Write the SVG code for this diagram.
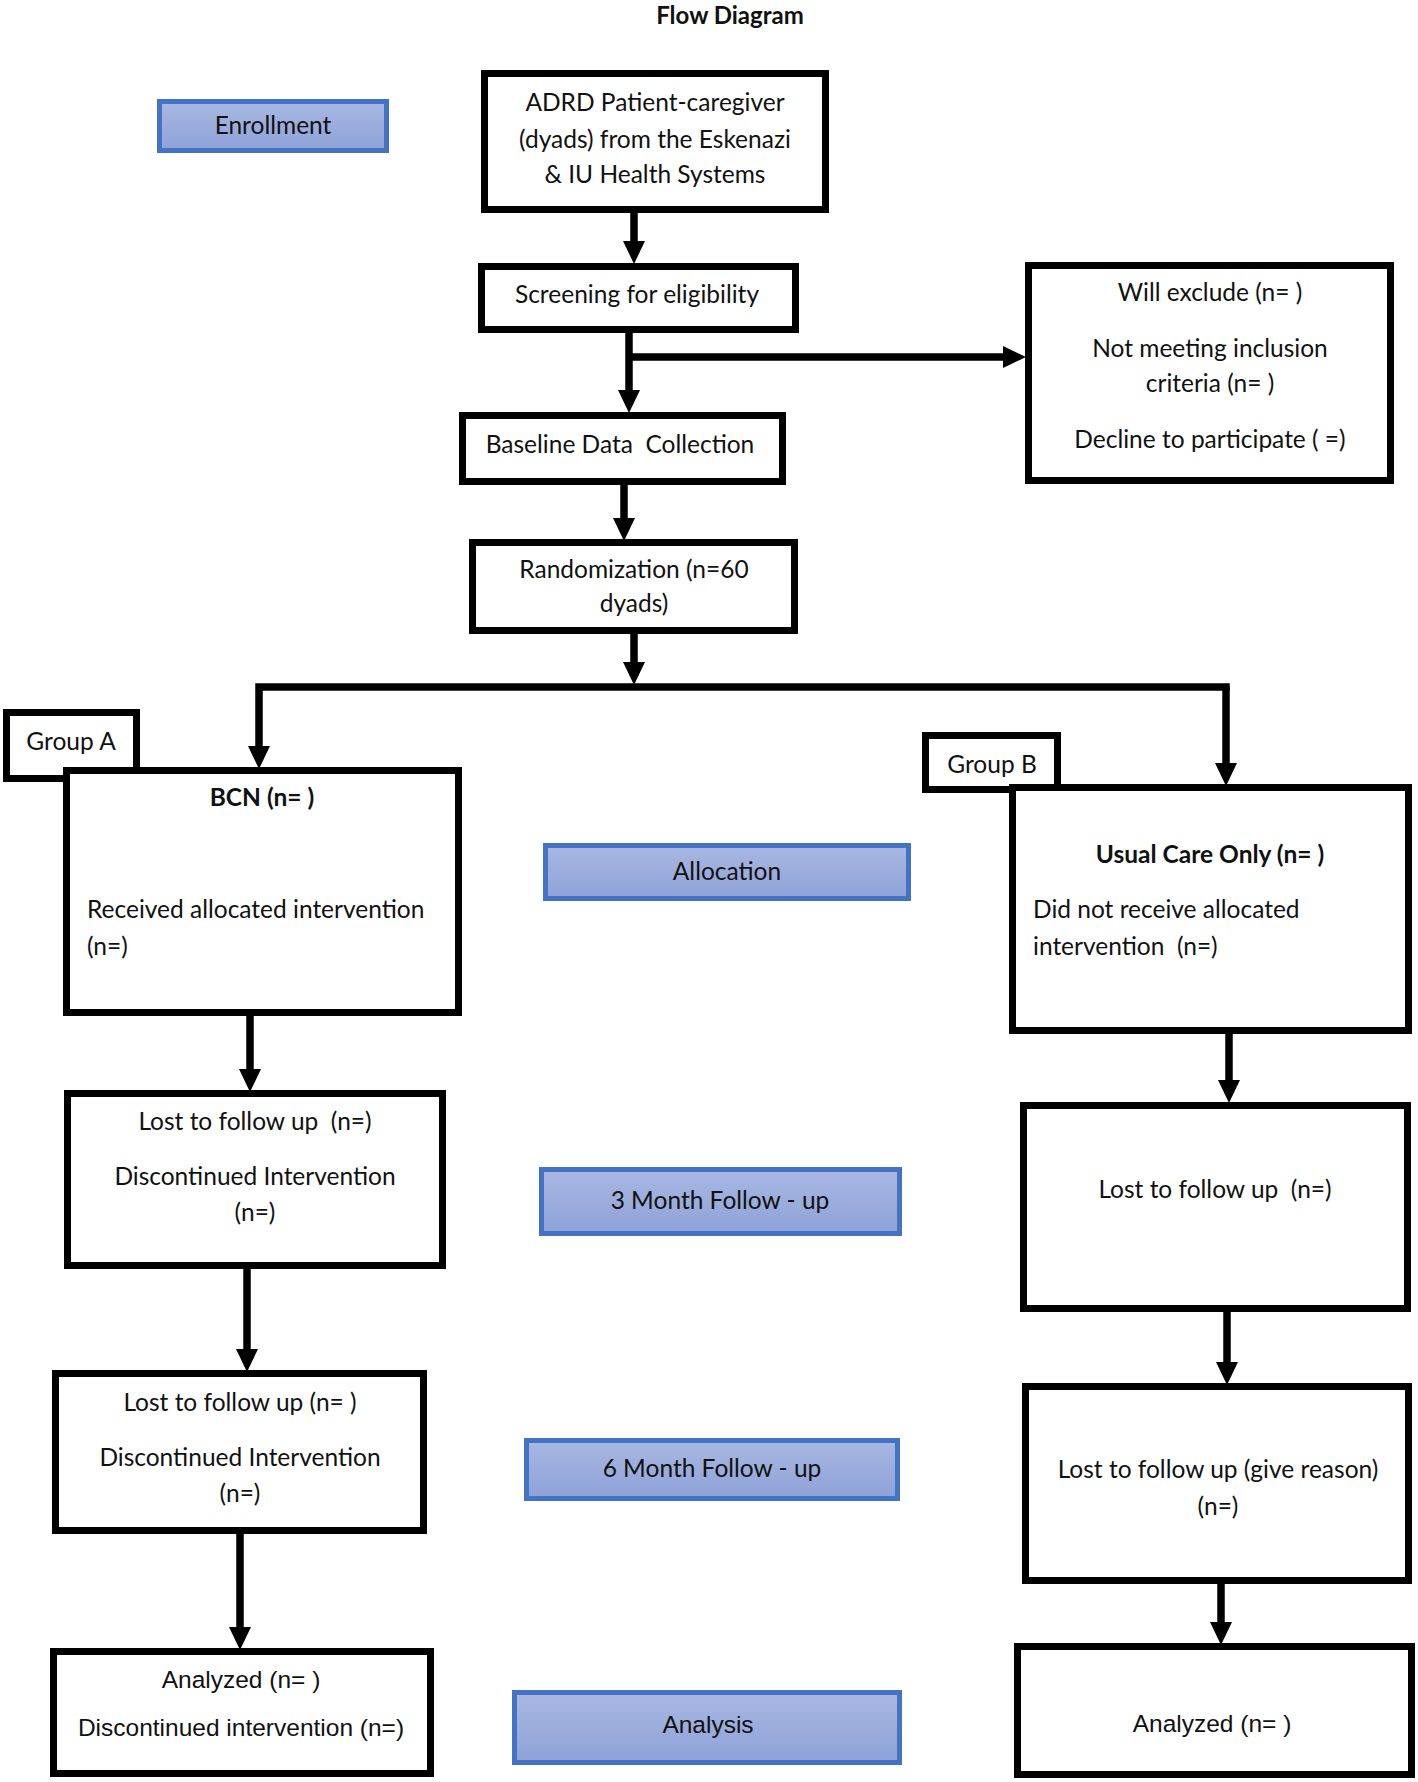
<svg xmlns="http://www.w3.org/2000/svg" width="1418" height="1782" viewBox="0 0 1418 1782">
<style>
.box{fill:#fff;stroke:#000;stroke-width:7}
.blue{fill:url(#bg);stroke:#4472C4;stroke-width:5}
.t{font-family:Lato,"Liberation Sans",sans-serif;font-size:24.5px;fill:#111}
.c{text-anchor:middle}
.b{font-weight:bold}
.a{font-family:"Liberation Sans",Arial,sans-serif;font-size:24.5px;fill:#111}
.conn{fill:none;stroke:#000;stroke-width:7.5}
</style>
<defs>
<linearGradient id="bg" x1="0" y1="0" x2="0" y2="1">
<stop offset="0" stop-color="#a9b8e2"/>
<stop offset="1" stop-color="#8ea2d8"/>
</linearGradient>
<marker id="ah" markerUnits="userSpaceOnUse" markerWidth="24" markerHeight="24" viewBox="0 0 24 24" refX="10" refY="12" orient="auto">
<path d="M0,1 L23,12 L0,23 z" fill="#000"/>
</marker>
</defs>
<rect width="1418" height="1782" fill="#fff"/>

<text class="t c b" x="730" y="24" style="font-size:24px">Flow Diagram</text>

<g id="enrollment"><rect class="blue" x="159.5" y="101.5" width="227" height="49"/><text class="t c" x="273" y="134">Enrollment</text></g>
<g id="allocation"><rect class="blue" x="545.5" y="845.5" width="363" height="53"/><text class="t c" x="727" y="880">Allocation</text></g>
<g id="month3"><rect class="blue" x="541.5" y="1169.5" width="358" height="64"/><text class="t c" x="720" y="1209">3 Month Follow - up</text></g>
<g id="month6"><rect class="blue" x="526.5" y="1440.5" width="371" height="58"/><text class="t c" x="712" y="1477">6 Month Follow - up</text></g>
<g id="analysis"><rect class="blue" x="514.5" y="1692.5" width="385" height="70"/><text class="a c" x="708" y="1733">Analysis</text></g>

<g id="adrd"><rect class="box" x="484.5" y="73.5" width="341" height="136"/>
<text class="t c" x="655" y="111">ADRD Patient-caregiver</text>
<text class="t c" x="655" y="148">(dyads) from the Eskenazi</text>
<text class="t c" x="655" y="183">&amp; IU Health Systems</text></g>

<g id="screening"><rect class="box" x="481.5" y="266.5" width="314" height="63"/>
<text class="t c" x="637" y="303">Screening for eligibility</text></g>

<g id="exclude"><rect class="box" x="1028.5" y="265.5" width="362" height="215"/>
<text class="t c" x="1210" y="301">Will exclude (n= )</text>
<text class="t c" x="1210" y="357">Not meeting inclusion</text>
<text class="t c" x="1210" y="392">criteria (n= )</text>
<text class="t c" x="1210" y="448">Decline to participate ( =)</text></g>

<g id="baseline"><rect class="box" x="462.5" y="415.5" width="320" height="66"/>
<text class="t c" x="620" y="453">Baseline Data&#160; Collection</text></g>

<g id="randomization"><rect class="box" x="472.5" y="542.5" width="322" height="88"/>
<text class="t c" x="634" y="578">Randomization (n=60</text>
<text class="t c" x="634" y="612">dyads)</text></g>

<g id="groupA"><rect class="box" x="6.5" y="712.5" width="130" height="66"/>
<text class="t c" x="71" y="750">Group A</text></g>

<g id="bcn"><rect class="box" x="66.5" y="770.5" width="392" height="242"/>
<text class="t c b" x="262" y="806">BCN (n= )</text>
<text class="t" x="87" y="918">Received allocated intervention</text>
<text class="t" x="87" y="955">(n=)</text></g>

<g id="groupB"><rect class="box" x="925.5" y="735.5" width="132" height="54"/>
<text class="t c" x="992" y="773">Group B</text></g>

<g id="usualcare"><rect class="box" x="1012.5" y="787.5" width="396" height="243"/>
<text class="t c b" x="1210" y="863">Usual Care Only (n= )</text>
<text class="t" x="1033" y="918">Did not receive allocated</text>
<text class="t" x="1033" y="955" xml:space="preserve">intervention  (n=)</text></g>

<g id="lostA3"><rect class="box" x="67.5" y="1093.5" width="375" height="172"/>
<text class="t c" x="255" y="1130" xml:space="preserve">Lost to follow up  (n=)</text>
<text class="t c" x="255" y="1185">Discontinued Intervention</text>
<text class="t c" x="255" y="1221">(n=)</text></g>

<g id="lostB3"><rect class="box" x="1023.5" y="1105.5" width="384" height="203"/>
<text class="t c" x="1215" y="1198" xml:space="preserve">Lost to follow up  (n=)</text></g>

<g id="lostA6"><rect class="box" x="55.5" y="1373.5" width="368" height="157"/>
<text class="t c" x="240" y="1411">Lost to follow up (n= )</text>
<text class="t c" x="240" y="1466">Discontinued Intervention</text>
<text class="t c" x="240" y="1502">(n=)</text></g>

<g id="lostB6"><rect class="box" x="1025.5" y="1386.5" width="383" height="194"/>
<text class="t c" x="1218" y="1478">Lost to follow up (give reason)</text>
<text class="t c" x="1218" y="1515">(n=)</text></g>

<g id="analyzedA"><rect class="box" x="53.5" y="1651.5" width="377" height="122"/>
<text class="a c" x="241" y="1688">Analyzed (n= )</text>
<text class="a c" x="241" y="1736">Discontinued intervention (n=)</text></g>

<g id="analyzedB"><rect class="box" x="1017.5" y="1646.5" width="394" height="128"/>
<text class="a c" x="1212" y="1732">Analyzed (n= )</text></g>

<g id="connectors">
<path class="conn" d="M634,210 V251" marker-end="url(#ah)"/>
<path class="conn" d="M629,330 V400" marker-end="url(#ah)"/>
<path class="conn" d="M629,357 H1013" marker-end="url(#ah)"/>
<path class="conn" d="M624,482 V528" marker-end="url(#ah)"/>
<path class="conn" d="M634,631 V672" marker-end="url(#ah)"/>
<path class="conn" d="M1229.75,687 H259 V756" marker-end="url(#ah)"/>
<path class="conn" d="M1226,687 V773" marker-end="url(#ah)"/>
<path class="conn" d="M250,1013 V1079" marker-end="url(#ah)"/>
<path class="conn" d="M247,1266 V1359" marker-end="url(#ah)"/>
<path class="conn" d="M240,1531 V1637" marker-end="url(#ah)"/>
<path class="conn" d="M1229,1031 V1090" marker-end="url(#ah)"/>
<path class="conn" d="M1227,1309 V1372" marker-end="url(#ah)"/>
<path class="conn" d="M1221,1581 V1632" marker-end="url(#ah)"/>
</g>
</svg>
